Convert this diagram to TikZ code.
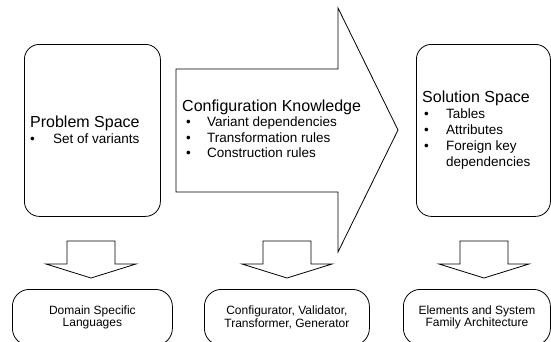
\documentclass[tikz,border=0pt]{standalone}
\usepackage{fontspec}
\setmainfont{Liberation Sans}
\usepackage{tikz}

\tikzset{
    spacebox/.style={draw=black,line width=0.8pt,rounded corners=15pt,anchor=north west,inner sep=0pt},
    toolbox/.style={spacebox,rounded corners=17pt,align=center,font=\fontsize{12}{12.5}\selectfont},
    fatarrow/.style={draw=black,line width=0.8pt,line join=miter},
    headtext/.style={anchor=base west,inner sep=0pt,font=\fontsize{16}{18}\selectfont},
    itemtext/.style={anchor=base west,inner sep=0pt,font=\fontsize{13.5}{15.5}\selectfont},
}

\begin{document}
\begin{tikzpicture}[x=1pt,y=-1pt]
    \useasboundingbox (0,0) rectangle (551,341);
    \clip (0,0) rectangle (551,341);

    % Problem space
    \node[spacebox,minimum width=136pt,minimum height=172pt] (problem) at (24,44) {};
    \node[headtext] (problemhead) at (30,127) {Problem Space};
    \node[itemtext] (pb1) at (30,143) {\textbullet};
    \node[itemtext] (pi1) at (53,143) {Set of variants};

    % Configuration knowledge (big arrow)
    \draw[fatarrow] (176,69) -- (338,69) -- (338,8) -- (398,130)
        -- (338,252) -- (338,192) -- (176,192) -- cycle;
    \node[headtext] (confighead) at (182,111) {Configuration Knowledge};
    \foreach \i/\y/\t in {1/126/Variant dependencies,2/142/Transformation rules,3/157/Construction rules} {
        \node[itemtext] (cb\i) at (186,\y) {\textbullet};
        \node[itemtext] (ci\i) at (207,\y) {\t};
    }

    % Solution space
    \node[spacebox,minimum width=134pt,minimum height=172pt] (solution) at (416,44) {};
    \node[headtext] (solutionhead) at (422,102) {Solution Space};
    \foreach \i/\y/\t in {1/118/Tables,2/134/Attributes,3/150/Foreign key} {
        \node[itemtext] (sb\i) at (424,\y) {\textbullet};
        \node[itemtext] (si\i) at (446,\y) {\t};
    }
    \node[itemtext] (si4) at (446,166) {dependencies};

    % Down arrows
    \foreach \cx in {91,287,484} {
        \draw[fatarrow] (\cx-24,241) -- (\cx+24,241) -- (\cx+24,264) -- (\cx+45,264)
            -- (\cx,278) -- (\cx-45,264) -- (\cx-24,264) -- cycle;
    }

    % Bottom boxes
    \node[toolbox,minimum width=160pt,minimum height=56pt] (dsl) at (12,289)
        {Domain Specific\\Languages};
    \node[toolbox,minimum width=165pt,minimum height=56pt] (generator) at (204,289)
        {Configurator, Validator,\\Transformer, Generator};
    \node[toolbox,minimum width=147pt,minimum height=56pt] (family) at (403,289)
        {Elements and System\\Family Architecture};

\end{tikzpicture}
\end{document}
